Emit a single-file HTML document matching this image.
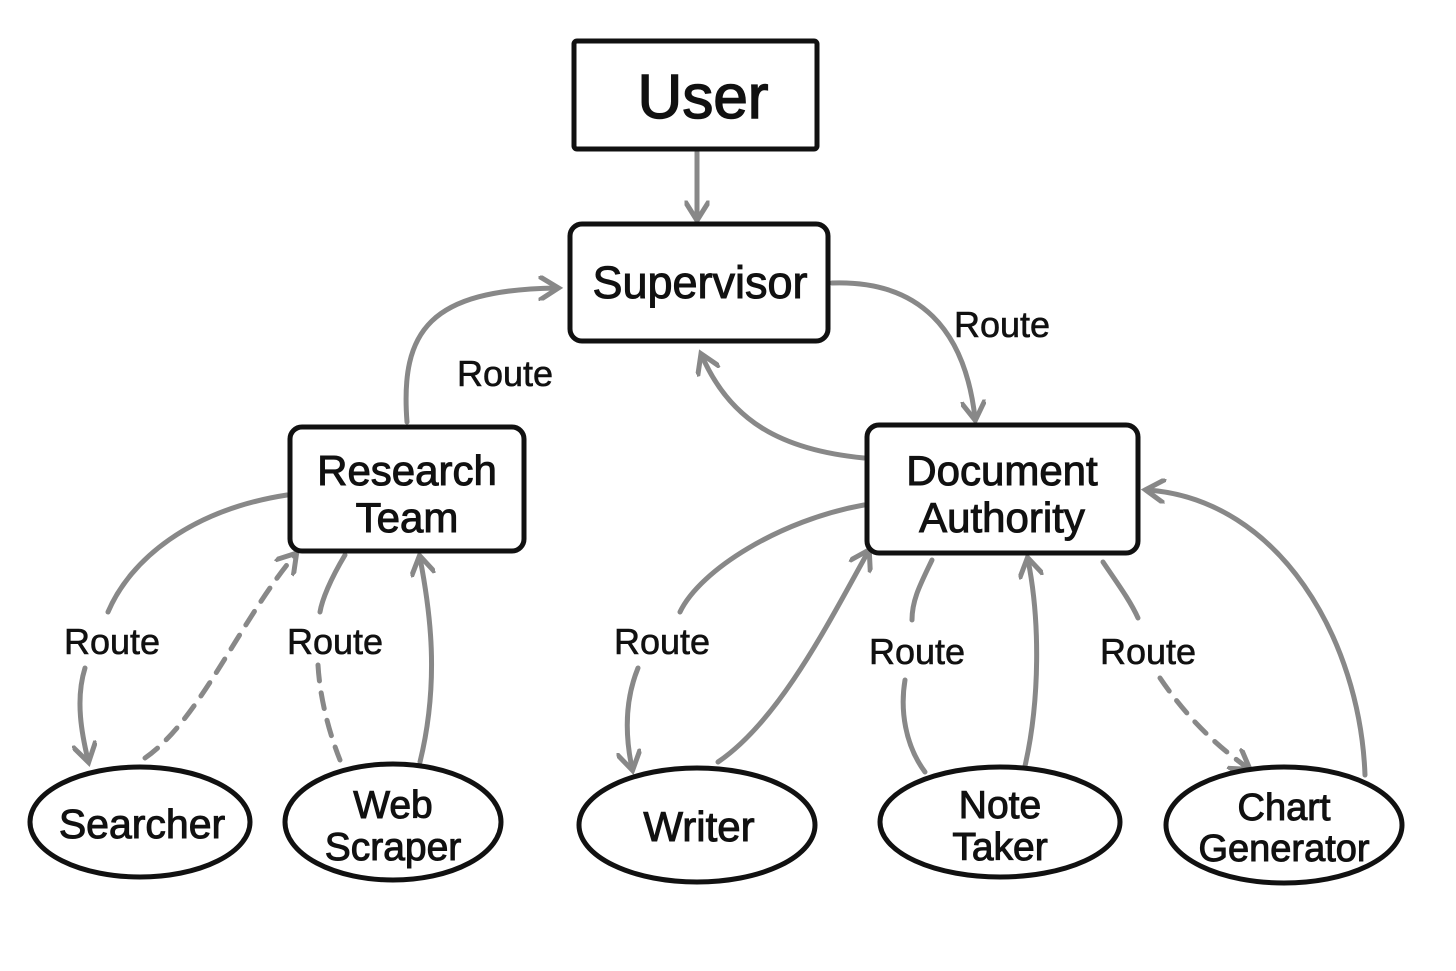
<!DOCTYPE html>
<html><head><meta charset="utf-8"><style>
html,body{margin:0;padding:0;background:#fff}
svg{display:block}
text{font-family:"Liberation Sans","DejaVu Sans",sans-serif;fill:#111;stroke:#111;stroke-width:1;text-anchor:middle}
.lab{font-size:36px;stroke-width:0.6}
.c{fill:none;stroke:#888;stroke-width:5;stroke-linecap:round}
.d{stroke-dasharray:16 12}
.b{fill:#fff;stroke:#111;stroke-width:5}
</style></head><body>
<svg width="1456" height="971" viewBox="0 0 1456 971" xmlns="http://www.w3.org/2000/svg">
<defs>
<marker id="a" viewBox="0 0 10 10" refX="7" refY="5" markerWidth="5" markerHeight="5" orient="auto" markerUnits="strokeWidth">
<path d="M0,0 L8,5 L0,10" fill="none" stroke="#888" stroke-width="2"/>
</marker>
</defs>
<path class="c" d="M697,152 L697,218" marker-end="url(#a)"/>
<path class="c" d="M407,422 C400,330 430,290 556,288" marker-end="url(#a)"/>
<path class="c" d="M832,283 C920,280 965,330 975,418" marker-end="url(#a)"/>
<path class="c" d="M864,458 C780,450 730,420 702,356" marker-end="url(#a)"/>
<path class="c" d="M287,495 C190,510 130,560 108,612"/>
<path class="c" d="M85,668 C75,700 82,735 88,760" marker-end="url(#a)"/>
<path class="c d" d="M145,758 C200,720 240,620 295,555" marker-end="url(#a)"/>
<path class="c" d="M345,555 C330,580 322,600 320,612"/>
<path class="c d" d="M318,665 C320,700 330,735 340,760"/>
<path class="c" d="M420,762 C440,680 430,610 420,558" marker-end="url(#a)"/>
<path class="c" d="M864,505 C780,520 700,570 680,612"/>
<path class="c" d="M638,668 C625,700 625,735 632,768" marker-end="url(#a)"/>
<path class="c" d="M718,762 C780,720 830,620 868,552" marker-end="url(#a)"/>
<path class="c" d="M932,560 C920,585 912,600 912,620"/>
<path class="c" d="M905,680 C900,710 905,745 925,772"/>
<path class="c" d="M1025,766 C1040,700 1040,620 1028,560" marker-end="url(#a)"/>
<path class="c" d="M1103,562 C1115,580 1130,600 1138,618"/>
<path class="c d" d="M1160,678 C1185,715 1215,745 1248,768" marker-end="url(#a)"/>
<path class="c" d="M1365,775 C1360,640 1280,500 1148,490" marker-end="url(#a)"/>
<text class="lab" x="505" y="386">Route</text>
<text class="lab" x="1002" y="337">Route</text>
<text class="lab" x="112" y="654">Route</text>
<text class="lab" x="335" y="654">Route</text>
<text class="lab" x="662" y="654">Route</text>
<text class="lab" x="917" y="664">Route</text>
<text class="lab" x="1148" y="664">Route</text>
<rect class="b" x="574" y="41" width="243" height="108" rx="3"/>
<text x="703" y="118" style="font-size:62px;stroke-width:1.5">User</text>
<rect class="b" x="570" y="224" width="258" height="117" rx="12"/>
<text x="700" y="298" style="font-size:45px">Supervisor</text>
<rect class="b" x="290" y="427" width="234" height="124" rx="12"/>
<text x="407" y="485" style="font-size:42px">Research</text>
<text x="407" y="532" style="font-size:42px">Team</text>
<rect class="b" x="867" y="425" width="271" height="128" rx="12"/>
<text x="1002" y="485" style="font-size:42px">Document</text>
<text x="1002" y="532" style="font-size:42px">Authority</text>
<ellipse class="b" cx="140" cy="822" rx="110" ry="55"/>
<text x="142" y="838" style="font-size:41px">Searcher</text>
<ellipse class="b" cx="393" cy="822" rx="108" ry="58"/>
<text x="393" y="818" style="font-size:39px">Web</text>
<text x="393" y="860" style="font-size:39px">Scraper</text>
<ellipse class="b" cx="697" cy="825" rx="118" ry="57"/>
<text x="699" y="841" style="font-size:42px">Writer</text>
<ellipse class="b" cx="1000" cy="822" rx="120" ry="55"/>
<text x="1000" y="818" style="font-size:39px">Note</text>
<text x="1000" y="860" style="font-size:39px">Taker</text>
<ellipse class="b" cx="1284" cy="825" rx="118" ry="58"/>
<text x="1284" y="820" style="font-size:38px">Chart</text>
<text x="1284" y="861" style="font-size:38px">Generator</text>
</svg>
</body></html>
